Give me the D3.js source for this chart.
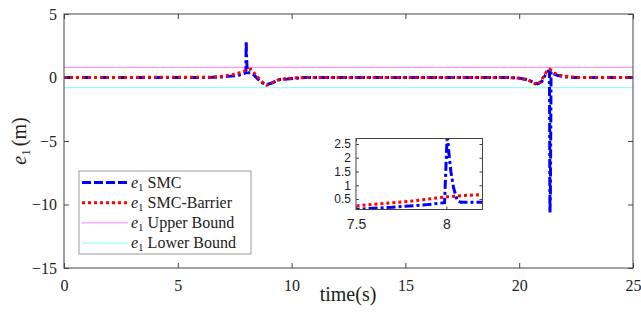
<!DOCTYPE html>
<html>
<head>
<meta charset="utf-8">
<script src="https://cdn.jsdelivr.net/npm/d3@7"></script>
<style>
  body { margin: 0; background: #fff; }
  svg { display: block; }
</style>
</head>
<body>
<div id="chart"></div>
<script>
// data
const xTicks = [0, 5, 10, 15, 20, 25];
const yTicks = [-15, -10, -5, 0, 5];
const insetXTicks = [7.5, 8];
const insetYTicks = [0.5, 1, 1.5, 2, 2.5];

const smcT = [0, 6.5, 7.0, 7.5, 7.7, 7.9, 7.99, 8.005, 8.015, 8.025, 8.04, 8.06, 8.08, 8.2, 8.35, 8.5, 8.7, 8.9, 9.1, 9.3, 9.5, 9.8, 10.2, 10.6, 19.6, 20.0, 20.3, 20.6, 20.8, 21.0, 21.15, 21.28, 21.33, 21.35, 21.37, 21.4, 21.5, 21.7, 22.0, 22.4, 25];
const smcV = [0, 0.01, 0.05, 0.13, 0.2, 0.3, 0.37, 2.9, 2.1, 1.5, 0.9, 0.45, 0.38, 0.38, 0.2, -0.1, -0.4, -0.55, -0.45, -0.3, -0.15, -0.12, -0.05, 0, 0, -0.05, -0.15, -0.35, -0.5, -0.3, 0.2, 0.5, 0.45, -10.65, -9.5, 0.45, 0.3, 0.15, 0.05, 0, 0];

const barT = [0, 6.5, 7.0, 7.5, 7.8, 8.0, 8.1, 8.2, 8.3, 8.5, 8.7, 8.9, 9.1, 9.4, 9.7, 10.0, 10.5, 19.5, 20.0, 20.4, 20.6, 20.8, 21.0, 21.2, 21.35, 21.5, 21.7, 22.0, 22.5, 25];
const barV = [0, 0.02, 0.1, 0.25, 0.42, 0.58, 0.63, 0.66, 0.45, 0.05, -0.35, -0.62, -0.45, -0.2, -0.1, -0.05, 0, 0, -0.05, -0.2, -0.4, -0.6, -0.15, 0.45, 0.65, 0.4, 0.2, 0.1, 0, 0];

const bound = 0.8;

const legendLabels = ["SMC", "SMC-Barrier", "Upper Bound", "Lower Bound"];
const colors = ["#0000ff", "#ff0000", "#ff80ff", "#80ffff"];

const W = 641, H = 320;
const axisColor = "#444";
const serif = "'Liberation Serif', 'DejaVu Serif', serif";
const sans = "'Liberation Sans', Arial, sans-serif";

const svg = d3.select("#chart").append("svg")
  .attr("width", W).attr("height", H);

// main scales
const x = d3.scaleLinear().domain([0, 25]).range([64, 633]);
const y = d3.scaleLinear().domain([-15, 5]).range([268, 14]);

svg.append("clipPath").attr("id", "mainClip")
  .append("rect")
  .attr("x", x(0)).attr("y", y(5))
  .attr("width", x(25) - x(0)).attr("height", y(-15) - y(5));

const smcData = smcT.map((t, i) => [t, smcV[i]]);
const barData = barT.map((t, i) => [t, barV[i]]);

function drawLines(g, xs, ys, clipId, withBounds) {
  const line = d3.line().x(d => xs(d[0])).y(d => ys(d[1]));
  const pg = g.append("g").attr("clip-path", "url(#" + clipId + ")");
  const dom = xs.domain();
  if (withBounds) {
    pg.append("line")
      .attr("x1", xs(dom[0])).attr("x2", xs(dom[1]))
      .attr("y1", ys(bound)).attr("y2", ys(bound))
      .attr("stroke", colors[2]).attr("stroke-width", 1);
    pg.append("line")
      .attr("x1", xs(dom[0])).attr("x2", xs(dom[1]))
      .attr("y1", ys(-bound)).attr("y2", ys(-bound))
      .attr("stroke", colors[3]).attr("stroke-width", 1);
  }
  pg.append("path").datum(smcData)
    .attr("d", line).attr("fill", "none")
    .attr("stroke", colors[0]).attr("stroke-width", 3)
    .attr("stroke-dasharray", "9,3,3,3");
  pg.append("path").datum(barData)
    .attr("d", line).attr("fill", "none")
    .attr("stroke", colors[1]).attr("stroke-width", 3)
    .attr("stroke-dasharray", "3,3");
}

drawLines(svg, x, y, "mainClip", true);

// axes with inward ticks
function styleAxis(g) {
  g.select(".domain").remove();
  g.selectAll(".tick line").attr("stroke", axisColor);
  g.selectAll(".tick text").attr("fill", "#222")
    .style("font-family", serif).style("font-size", "16px");
}
svg.append("g").attr("transform", "translate(0," + y(-15) + ")")
  .call(d3.axisBottom(x).tickValues(xTicks).tickSizeInner(-5).tickSizeOuter(0).tickPadding(12))
  .call(styleAxis);
svg.append("g").attr("transform", "translate(0," + y(5) + ")")
  .call(d3.axisTop(x).tickValues(xTicks).tickSizeInner(-5).tickSizeOuter(0).tickFormat(""))
  .call(styleAxis);
svg.append("g").attr("transform", "translate(" + x(0) + ",0)")
  .call(d3.axisLeft(y).tickValues(yTicks).tickSizeInner(-5).tickSizeOuter(0).tickPadding(7))
  .call(styleAxis);
svg.append("g").attr("transform", "translate(" + x(25) + ",0)")
  .call(d3.axisRight(y).tickValues(yTicks).tickSizeInner(-5).tickSizeOuter(0).tickFormat(""))
  .call(styleAxis);
svg.append("rect")
  .attr("x", x(0)).attr("y", y(5))
  .attr("width", x(25) - x(0)).attr("height", y(-15) - y(5))
  .attr("fill", "none").attr("stroke", axisColor).attr("stroke-width", 1);

// axis labels
const yl = svg.append("text")
  .attr("transform", "translate(26,141) rotate(-90)")
  .attr("text-anchor", "middle")
  .style("font-family", serif).style("font-size", "20px").attr("fill", "#222");
yl.append("tspan").attr("font-style", "italic").text("e");
yl.append("tspan").style("font-size", "13px").attr("dy", 4).text("1");
yl.append("tspan").attr("dy", -4).attr("dx", 3).text("(m)");

svg.append("text")
  .attr("x", 348).attr("y", 301)
  .attr("text-anchor", "middle")
  .style("font-family", serif).style("font-size", "20px").attr("fill", "#222")
  .text("time(s)");

// legend
const lg = svg.append("g");
lg.append("rect")
  .attr("x", 79).attr("y", 171).attr("width", 172).attr("height", 83)
  .attr("fill", "#fff").attr("stroke", "#999").attr("stroke-width", 1);
const dashes = ["9,3", "3,3", null, null];
const widths = [3, 3, 1, 1];
legendLabels.forEach((lab, i) => {
  const cy = 182.5 + i * 20.2;
  lg.append("line")
    .attr("x1", 82).attr("x2", 128).attr("y1", cy).attr("y2", cy)
    .attr("stroke", colors[i]).attr("stroke-width", widths[i])
    .attr("stroke-dasharray", dashes[i]);
  const t = lg.append("text").attr("x", 131).attr("y", cy + 5)
    .style("font-family", serif).style("font-size", "16px").attr("fill", "#222");
  t.append("tspan").attr("font-style", "italic").text("e");
  t.append("tspan").style("font-size", "11px").attr("dy", 3).text("1");
  t.append("tspan").attr("dy", -3).attr("dx", 4).text(lab);
});

// inset
const xi = d3.scaleLinear().domain([7.5, 8.2]).range([356, 482.5]);
const yi = d3.scaleLinear().domain([0.12, 2.7]).range([209.5, 138.5]);
const ig = svg.append("g");
ig.append("rect")
  .attr("x", xi(7.5)).attr("y", yi(2.7))
  .attr("width", xi(8.2) - xi(7.5)).attr("height", yi(0.12) - yi(2.7))
  .attr("fill", "#fff");
svg.append("clipPath").attr("id", "insetClip")
  .append("rect")
  .attr("x", xi(7.5)).attr("y", yi(2.7))
  .attr("width", xi(8.2) - xi(7.5)).attr("height", yi(0.12) - yi(2.7));
drawLines(ig, xi, yi, "insetClip", false);

function styleInset(g) {
  g.select(".domain").remove();
  g.selectAll(".tick line").attr("stroke", axisColor);
  g.selectAll(".tick text").attr("fill", "#222")
    .style("font-family", sans).style("font-size", "12px");
}
ig.append("g").attr("transform", "translate(0," + yi(0.12) + ")")
  .call(d3.axisBottom(xi).tickValues(insetXTicks).tickSizeInner(-3).tickSizeOuter(0).tickPadding(10).tickFormat(d3.format("")))
  .call(styleInset)
  .selectAll(".tick text").style("font-size", "14px");
ig.append("g").attr("transform", "translate(0," + yi(2.7) + ")")
  .call(d3.axisTop(xi).tickValues(insetXTicks).tickSizeInner(-3).tickSizeOuter(0).tickFormat(""))
  .call(styleInset);
ig.append("g").attr("transform", "translate(" + xi(7.5) + ",0)")
  .call(d3.axisLeft(yi).tickValues(insetYTicks).tickSizeInner(-3).tickSizeOuter(0).tickPadding(5).tickFormat(d3.format("")))
  .call(styleInset);
ig.append("g").attr("transform", "translate(" + xi(8.2) + ",0)")
  .call(d3.axisRight(yi).tickValues(insetYTicks).tickSizeInner(-3).tickSizeOuter(0).tickFormat(""))
  .call(styleInset);
ig.append("rect")
  .attr("x", xi(7.5)).attr("y", yi(2.7))
  .attr("width", xi(8.2) - xi(7.5)).attr("height", yi(0.12) - yi(2.7))
  .attr("fill", "none").attr("stroke", axisColor).attr("stroke-width", 1);
</script>
</body>
</html>
